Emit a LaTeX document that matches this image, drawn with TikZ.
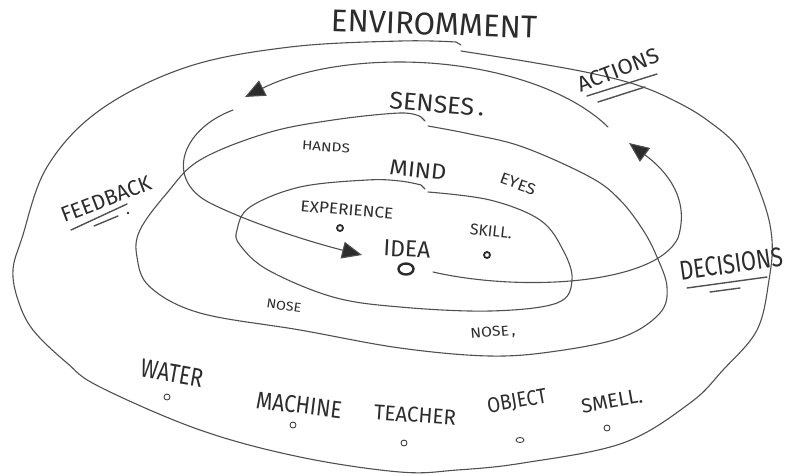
\documentclass[tikz,border=0pt]{standalone}
\usepackage{fontspec}
\setmainfont{Fira Sans}
\usepackage{graphicx}
\usetikzlibrary{arrows.meta,shapes.geometric}
\definecolor{pencil}{HTML}{505050}
\definecolor{ink}{HTML}{2C2C2C}
\newcommand\hw[3]{\resizebox{#1pt}{#2pt}{#3}}
\begin{document}
\begin{tikzpicture}[x=1pt,y=-1pt,
  ring/.style={draw=pencil, line width=1.1pt, line cap=round, line join=round},
  flow/.style={draw=pencil, line width=1.1pt, line cap=round,
    -{Triangle[length=20pt,width=17pt,fill=ink]}},
  lbl/.style={inner sep=0pt, text=ink},
  uline/.style={draw=pencil, line width=1.4pt, line cap=round},
  spot/.style={draw=ink, circle, inner sep=0pt, minimum size=6pt, line width=0.8pt},
  bspot/.style={draw=ink, circle, inner sep=0pt, minimum size=6pt, line width=1.8pt}]
\useasboundingbox (0,0) rectangle (787,475);
\fill[white] (0,0) rectangle (787,475);

% ---- rings ----
\draw[ring] plot[smooth, tension=0.6] coordinates {(461,51) (530,62) (590,73) (637,85) (673,100) (707,120) (740,150) (763,200) (772,240) (769,280) (757,330) (723,370) (690,403) (623,443) (523,463) (457,470) (400,472) (300,457) (200,430) (100,387) (67,363) (33,330) (18,300) (13,270) (22,238) (47,167) (100,110) (187,67) (290,47) (400,41) (456,42)} -- (461,45);
\draw[ring] plot[smooth, tension=0.6] coordinates {(428,126) (470,134) (523,147) (590,177) (620,200) (643,230) (657,257) (667,287) (660,313) (623,337) (557,351) (490,356) (400,348) (300,330) (200,313) (150,287) (137,257) (140,230) (167,193) (200,160) (267,133) (333,120) (400,113) (421,117)} -- (425,121);
\draw[ring] plot[smooth, tension=0.6] coordinates {(428,192) (490,200) (540,220) (563,250) (572,280) (557,303) (490,311) (400,307) (333,297) (268,270) (240,245) (237,230) (250,207) (300,187) (367,180) (400,181) (421,185)} -- (425,189);

% ---- idea ----
\node[draw=ink, line width=2.4pt, ellipse, minimum width=15pt, minimum height=11pt, inner sep=0pt] (ideaO) at (406,269) {};
\coordinate (ideaR) at (433,272);
\coordinate (dBend) at (678,238);
\coordinate (actTip) at (629,143);
\coordinate (aStart) at (608,127);
\coordinate (topMid) at (400,62);
\coordinate (envTip) at (245,97);
\coordinate (fbStart) at (233,110);
\coordinate (fbMid) at (210,203);
\coordinate (ideaTip) at (362,255);

\draw[flow] (ideaR) .. controls (520,292) and (655,285) .. (dBend) .. controls (690,200) and (668,172) .. (actTip);
\draw[flow] (aStart) .. controls (565,85) and (480,62) .. (topMid) .. controls (330,62) and (285,77) .. (envTip);
\draw[flow] (fbStart) .. controls (180,130) and (165,180) .. (fbMid) .. controls (250,223) and (310,242) .. (ideaTip);

% ---- labels ----
\node[lbl, rotate=-2] (env) at (434,24) {\hw{206}{22}{ENVIROMMENT}};
\node[lbl, rotate=21] (act) at (618,70) {\hw{86}{15}{ACTIONS}};
\draw[uline] (587,96) -- (657,74);
\draw[uline] (598,102) -- (645,87);
\node[lbl, rotate=-5] (sen) at (437,104) {\hw{95}{17}{SENSES\,.}};
\node[lbl, rotate=-4] (han) at (326,147) {\hw{48}{9}{HANDS}};
\node[lbl, rotate=-6] (mind) at (418,170) {\hw{57}{15}{MIND}};
\node[lbl, rotate=-20] (eyes) at (518,184) {\hw{37}{11}{EYES}};
\node[lbl, rotate=-5] (exp) at (347,210) {\hw{93}{11}{EXPERIENCE}};
\node[bspot] (expd) at (340,228) {};
\node[lbl, rotate=-3] (idea) at (407,249) {\hw{47}{16}{IDEA}};
\node[lbl, rotate=-6] (skill) at (491,231) {\hw{42}{11}{SKILL.}};
\node[bspot] (skilld) at (487,255) {};
\node[lbl, rotate=21] (fb) at (106,199) {\hw{95}{15}{FEEDBACK}};
\draw[uline] (71,230) -- (127,204);
\draw[uline] (94,226) -- (118,216);
\fill[ink] (128,213) circle (1.3pt);
\node[lbl, rotate=8] (dec) at (731,264) {\hw{104}{19}{DECISIONS}};
\draw[uline] (687,288) -- (767,277);
\draw[uline] (710,292) -- (740,288);
\node[lbl, rotate=-8] (nose1) at (284,306) {\hw{35}{9}{NOSE}};
\node[lbl, rotate=5] (nose2) at (493,333) {\hw{45}{10}{NOSE\,,}};
\node[lbl, rotate=-10] (water) at (172,373) {\hw{63}{18}{WATER}};
\node[spot] (waterd) at (167,397) {};
\node[lbl, rotate=-7] (mach) at (299,405) {\hw{86}{17}{MACHINE}};
\node[spot] (machd) at (293,425) {};
\node[lbl, rotate=-4] (teach) at (415,415) {\hw{82}{15}{TEACHER}};
\node[spot] (teachd) at (404,443) {};
\node[lbl, rotate=10] (obj) at (517,402) {\hw{60}{15}{OBJECT}};
\node[spot, ellipse, minimum width=8pt, minimum height=5pt] (objd) at (520,440) {};
\node[lbl, rotate=10] (smell) at (612,401) {\hw{62}{14}{SMELL.}};
\node[spot] (smelld) at (607,428) {};
\end{tikzpicture}
\end{document}
